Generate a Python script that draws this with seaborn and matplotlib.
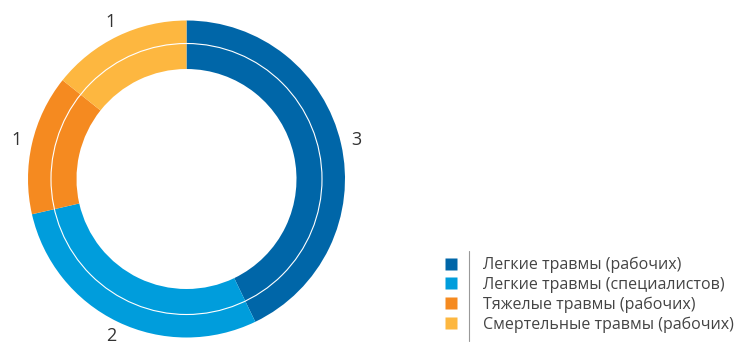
import matplotlib
matplotlib.use("Agg")
import matplotlib.pyplot as plt
from matplotlib.lines import Line2D
from matplotlib.patches import Circle
import seaborn as sns

# Injury counts by category
categories = [
    "Легкие травмы (рабочих)",
    "Легкие травмы (специалистов)",
    "Тяжелые травмы (рабочих)",
    "Смертельные травмы (рабочих)",
]
counts = [3, 2, 1, 1]
colors = ["#0066A8", "#009DDC", "#F58A20", "#FDB740"]

sns.set_theme(style="white")
plt.rcParams["font.family"] = ["Open Sans", "DejaVu Sans"]
palette = sns.color_palette(colors)

W, H = 734, 342
fig = plt.figure(figsize=(W / 100, H / 100), dpi=100)
ax = fig.add_axes([0, 0, 1, 1])

cx, cy = 186.5, H - 179
r_out, r_in, r_line = 158.5, 110, 135.5

wedges, texts = ax.pie(
    counts,
    colors=palette,
    labels=[str(c) for c in counts],
    startangle=90,
    counterclock=False,
    center=(cx, cy),
    radius=r_out,
    labeldistance=1.1,
    wedgeprops=dict(width=r_out - r_in, linewidth=0),
    textprops=dict(fontsize=13, color="#333333"),
)
for t in texts:
    t.set_ha("center")
    t.set_va("center")

# thin white ring splitting the donut band
ax.add_patch(Circle((cx, cy), r_line, fill=False, edgecolor="white", linewidth=0.8))

ax.set_xlim(0, W)
ax.set_ylim(0, H)
ax.set_aspect("equal")
ax.axis("off")

handles = [
    Line2D([], [], marker="s", linestyle="none", markersize=8,
           markerfacecolor=c, markeredgecolor="none")
    for c in palette
]
leg = ax.legend(
    handles, categories,
    loc="upper left",
    bbox_to_anchor=(443 / W, 1 - 257 / H),
    frameon=False,
    fontsize=11.5,
    labelcolor="#444444",
    handlelength=1.0,
    handletextpad=1.5,
    labelspacing=0.22,
    borderpad=0,
    borderaxespad=0,
)

# vertical divider between legend markers and labels
fig.add_artist(Line2D([469 / W, 469 / W], [1 - 251 / H, 1 - 341 / H],
                      transform=fig.transFigure, color="#999999", linewidth=0.8))

fig.savefig("out.png", dpi=100)
